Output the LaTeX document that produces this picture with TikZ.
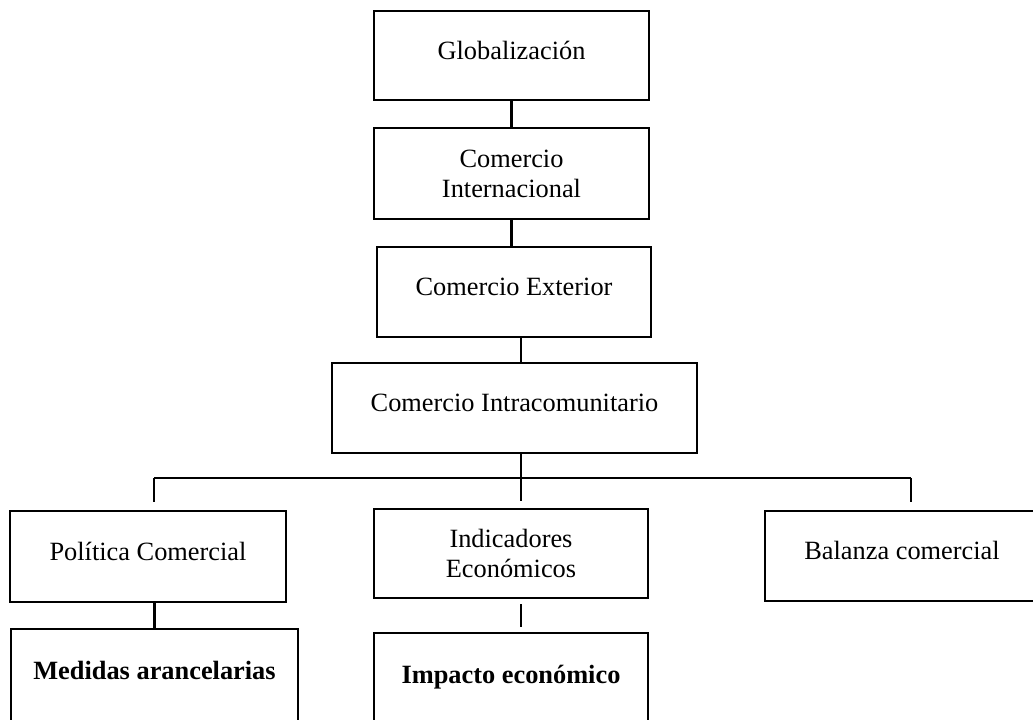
\documentclass[tikz,border=0pt]{standalone}
\usepackage{fontspec}
\setmainfont{Liberation Serif}
\usetikzlibrary{positioning}

\tikzset{
  caja/.style={draw, line width=1.4pt, align=center, font=\fontsize{15}{17}\selectfont},
  unalinea/.style={text height=10pt, text depth=5.6pt},
  enlace/.style={line width=1.4pt},
}

\begin{document}
\begin{tikzpicture}

\useasboundingbox (0,0) rectangle (20.66,-14.4);
\clip (0,0) rectangle (20.66,-14.4);

% Cadena principal
\node[caja, unalinea, minimum width=5.5cm, minimum height=1.78cm] (glob) at (10.23,-1.11) {Globalización};
\node[caja, minimum width=5.5cm, minimum height=1.82cm] (inter) at (10.23,-3.47) {Comercio\\Internacional};
\node[caja, unalinea, minimum width=5.48cm, minimum height=1.8cm] (exter) at (10.28,-5.84) {Comercio Exterior};
\node[caja, unalinea, minimum width=7.3cm, minimum height=1.8cm] (intra) at (10.29,-8.16) {Comercio Intracomunitario};

% Ramas
\node[caja, unalinea, minimum width=5.52cm, minimum height=1.82cm] (pol) at (2.96,-11.13) {Política Comercial};
\node[caja, minimum width=5.48cm, minimum height=1.78cm] (ind) at (10.22,-11.07) {Indicadores\\Económicos};
\node[caja, unalinea, minimum width=6.4cm, minimum height=1.8cm] (bal) at (18.5,-11.12) {\hspace*{-0.92cm}Balanza comercial};

\node[caja, unalinea, minimum width=5.74cm, minimum height=1.88cm, font=\fontsize{15}{17}\selectfont\bfseries] (med) at (3.09,-13.52) {Medidas arancelarias};
\node[caja, unalinea, minimum width=5.48cm, minimum height=1.88cm, font=\fontsize{15}{17}\selectfont\bfseries] (imp) at (10.22,-13.60) {Impacto económico};

% Bus
\coordinate (bizq) at (3.08,-9.56);
\coordinate (bcen) at (10.42,-9.56);
\coordinate (bder) at (18.22,-9.56);

% Lineas
\draw[enlace] (glob) -- (inter);
\draw[enlace] (inter.south) -- (inter.south |- exter.north);
\draw[enlace] (exter.south -| bcen) -- (intra.north -| bcen);
\draw[enlace] (bizq) -- (bder);
\draw[enlace, shorten >=0.14cm] (intra.south -| bcen) -- (ind.north -| bcen);
\draw[enlace, shorten >=0.16cm] (bizq) -- (pol.north -| bizq);
\draw[enlace, shorten >=0.16cm] (bder) -- (bal.north -| bder);
\draw[enlace] (pol.south -| med.north) -- (med.north);
\draw[enlace, shorten <=0.1cm, shorten >=0.1cm] (ind.south -| bcen) -- (imp.north -| bcen);

\end{tikzpicture}
\end{document}
